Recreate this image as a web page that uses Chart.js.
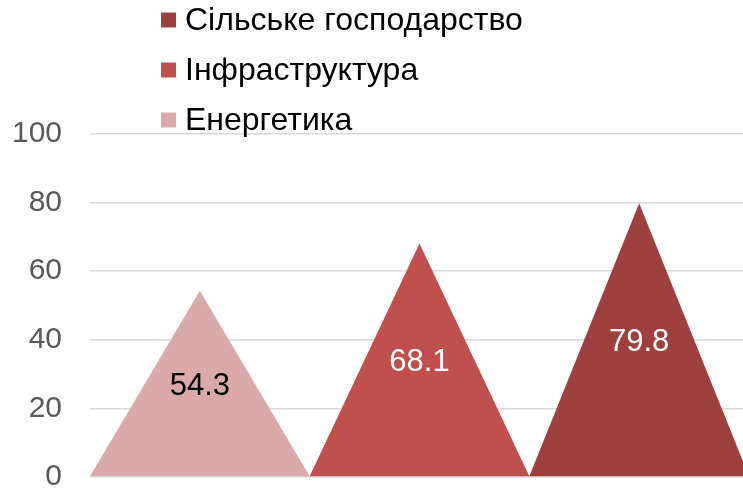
<!DOCTYPE html>
<html>
<head>
<meta charset="utf-8">
<script src="https://cdn.jsdelivr.net/npm/chart.js@4"></script>
<style>
  html, body { margin: 0; padding: 0; background: #fff; overflow: hidden; }
  #wrap { width: 743px; height: 490px; overflow: hidden; }
</style>
</head>
<body>
<div id="wrap"><canvas id="grafico" width="749" height="490"></canvas></div>
<script>
const categorias = ["Енергетика", "Інфраструктура", "Сільське господарство"];
const valores = [54.3, 68.1, 79.8];
const cores = ["#daaaaa", "#c0504d", "#9d403e"];
const coresTexto = ["#000000", "#ffffff", "#ffffff"];
const ticksY = [0, 20, 40, 60, 80, 100];

const fonte = "'Liberation Sans', Arial, sans-serif";

// one series per category, so every series has a single bar
const datasets = categorias.map((nome, i) => ({
  label: nome,
  data: categorias.map((c, j) => (j === i ? valores[i] : null)),
  backgroundColor: cores[i],
  categoryPercentage: 1,
  barPercentage: 1
}));

// draw bars as triangles (apex at the value, base on the axis)
const triangulos = {
  id: "triangulos",
  beforeDatasetDraw(chart, args) {
    const ctx = chart.ctx;
    const ds = chart.data.datasets[args.index];
    ctx.save();
    args.meta.data.forEach((el, j) => {
      if (ds.data[j] == null) return;
      const half = el.width / 2;
      ctx.beginPath();
      ctx.moveTo(el.x - half, el.base);
      ctx.lineTo(el.x, el.y);
      ctx.lineTo(el.x + half, el.base);
      ctx.closePath();
      ctx.fillStyle = ds.backgroundColor;
      ctx.fill();
    });
    ctx.restore();
    return false;
  },
  afterDatasetsDraw(chart) {
    const ctx = chart.ctx;
    ctx.save();
    ctx.font = "31px " + fonte;
    ctx.textAlign = "center";
    ctx.textBaseline = "middle";
    chart.data.datasets.forEach((ds, i) => {
      const meta = chart.getDatasetMeta(i);
      meta.data.forEach((el, j) => {
        if (ds.data[j] == null) return;
        ctx.fillStyle = coresTexto[i];
        ctx.fillText(ds.data[j].toFixed(1), el.x, (el.y + el.base) / 2 + 3);
      });
    });
    ctx.restore();
  }
};

// vertical legend, last series first
const legenda = {
  id: "legenda",
  afterDraw(chart) {
    const ctx = chart.ctx;
    const itens = chart.data.datasets.slice().reverse();
    ctx.save();
    ctx.font = "32px " + fonte;
    ctx.textBaseline = "middle";
    itens.forEach((ds, k) => {
      const y = 20 + k * 50;
      ctx.fillStyle = ds.backgroundColor;
      ctx.fillRect(161, y - 7.5, 15, 15);
      ctx.fillStyle = "#000000";
      ctx.fillText(ds.label, 185, y + 1);
    });
    ctx.restore();
  }
};

new Chart(document.getElementById("grafico"), {
  type: "bar",
  data: {
    labels: categorias,
    datasets: datasets
  },
  plugins: [triangulos, legenda],
  options: {
    responsive: false,
    animation: false,
    layout: { padding: { top: 134, bottom: 13, left: 0, right: 0 } },
    plugins: {
      legend: { display: false },
      tooltip: { enabled: false }
    },
    scales: {
      x: {
        stacked: true,
        display: false
      },
      y: {
        min: 0,
        max: 100,
        afterBuildTicks(scale) {
          scale.ticks = ticksY.map(v => ({ value: v }));
        },
        afterFit(scale) {
          scale.width = 90;
          scale.paddingTop = 0;
          scale.paddingBottom = 0;
        },
        border: { display: false },
        grid: { color: "#d9d9d9", lineWidth: 1.5, drawTicks: false },
        ticks: {
          color: "#595959",
          padding: 28,
          font: { size: 30, family: fonte }
        }
      }
    }
  }
});
</script>
</body>
</html>
